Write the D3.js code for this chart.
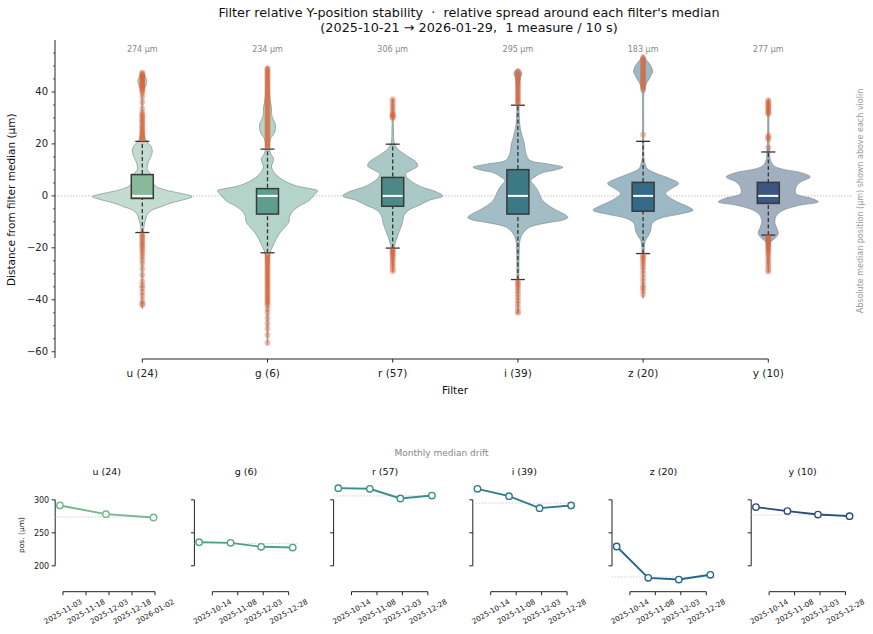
<!DOCTYPE html>
<html><head><meta charset="utf-8">
<script src="https://cdn.jsdelivr.net/npm/d3@7"></script>
<style>body{margin:0;background:#fff} text{font-family:"DejaVu Sans",sans-serif;white-space:pre}</style>
</head><body><svg id="c" width="873" height="634"></svg>
<script>
// ---------------- DATA ----------------
const filters = ["u","g","r","i","z","y"];
const counts = [24,6,57,39,20,10];
const absMedian = [274,234,306,295,183,277];
const boxQ1 = [-1.0,-7.0,-4.0,-7.0,-5.9,-2.9];
const boxMedian = [0,0,0,0,0,0];
const boxQ3 = [8.2,2.8,7.1,10.1,5.2,5.2];
const whiskerLo = [-14.1,-21.9,-20.1,-32.2,-22.2,-15.1];
const whiskerHi = [21.0,18.0,19.9,34.9,21.0,16.9];
const yTicksMain = [-60,-40,-20,0,20,40];

// outliers (µm from median)
const uOutliers = [21.5,22,22.6,23.1,23.8,24.4,25,25.7,26.3,27,27.8,28.5,29.1,29.9,30.6,31.2,31.9,33.5,36,38.2,39.6,40.4,41,41.5,42,42.4,42.9,43.3,43.8,44.2,44.7,45.1,45.6,46,46.5,47,47.5,
  -14.8,-15.5,-16.2,-17,-17.8,-18.5,-19.3,-20.1,-21,-22,-23.2,-24.5,-26,-28,-30.5,-33,-34.5,-35.5,-37,-38.5,-40.5,-41.5,-42];
const gOutliers = [18.5,19.2,19.9,20.6,21.3,22,22.7,23.4,24.1,24.8,25.5,26.2,26.9,27.6,28.3,29,29.7,30.4,31.1,31.8,32.5,33.2,33.9,34.6,35.3,36,36.7,37.4,38.1,38.8,39.5,40.2,40.9,41.6,42.3,43,43.7,44.4,45.1,45.8,46.5,47.2,47.9,48.6,49.1,
  -22.5,-23.2,-23.9,-24.6,-25.3,-26,-26.7,-27.4,-28.1,-28.8,-29.5,-30.2,-30.9,-31.6,-32.3,-33,-33.7,-34.4,-35.1,-35.8,-36.5,-37.2,-37.9,-38.6,-39.3,-40,-40.7,-41.4,-42,-43.5,-45,-47,-49,-51,-53.5,-56.5];
const rOutliers = [30,30.4,30.8,31.2,31.6,32.5,33.5,34.5,35.5,36.5,37.2,
  -20.6,-21.2,-21.8,-22.4,-23,-23.7,-24.5,-25.4,-26.3,-27.2,-28.2,-29];
const iOutliers = [35.5,36.2,36.9,37.6,38.3,39,39.7,40.4,41.1,41.8,42.5,43.2,43.9,44.6,45.3,46,46.7,47.4,48.1,
  -32.8,-33.6,-34.5,-35.5,-36.6,-37.8,-39,-40.3,-41.5,-43,-44.5,-45];
const zOutliers = [23.5,40.8,41.5,42.2,42.9,43.6,44.3,45,45.7,46.4,47.1,47.8,48.5,49.2,49.9,50.6,51.3,52,52.7,53.4,
  -22.8,-23.5,-24.3,-25.2,-26.2,-27.3,-28.5,-30,-31.5,-33,-34.5,-35.5,-36.5,-38];
const yOutliers = [18.5,21.8,22.5,23.2,31.5,32,32.6,33.2,33.8,34.4,35,35.6,36.2,36.8,
  -15.5,-16.1,-16.7,-17.3,-17.9,-18.5,-19.1,-19.7,-20.3,-21,-21.7,-22.5,-23.5,-24.5,-25.5,-26.5,-27.5,-28.5,-29.2];

// violin outlines: [value, relative half-width]
const uViolin = [[48,0],[47,0.03],[45.5,0.07],[44,0.09],[42.5,0.07],[41,0.03],[39,0.015],[34,0.012],[28,0.015],[24,0.03],[21,0.08],[19.5,0.16],[17.5,0.2],[15.5,0.18],[13.5,0.13],[11.5,0.1],[10,0.1],[8.5,0.17],[6,0.2],[4,0.25],[2.5,0.42],[1.5,0.64],[0.5,0.88],[-0.3,1.0],[-1.2,0.88],[-2.3,0.66],[-3.2,0.5],[-4.2,0.37],[-5.2,0.22],[-6.2,0.14],[-7.5,0.09],[-8.8,0.07],[-11,0.04],[-15,0.02],[-22,0.015],[-32,0.012],[-40,0.012],[-42.5,0.008],[-43.5,0]];
const gViolin = [[50,0],[49,0.02],[45,0.03],[40,0.035],[36,0.06],[34,0.08],[32,0.08],[30,0.1],[28,0.15],[26,0.16],[24,0.13],[22,0.06],[20,0.04],[18,0.04],[16,0.07],[14.5,0.12],[13,0.11],[11.5,0.08],[10,0.1],[8,0.18],[6,0.32],[4,0.55],[2.8,0.85],[2,1.0],[1,0.97],[0,0.92],[-2,0.82],[-4,0.63],[-6,0.5],[-8,0.44],[-10,0.43],[-12,0.35],[-14,0.26],[-16,0.19],[-18,0.14],[-20,0.09],[-22,0.05],[-25,0.03],[-30,0.02],[-40,0.015],[-50,0.012],[-56,0.008],[-57.5,0]];
const rViolin = [[37.5,0],[36,0.012],[30,0.012],[25,0.015],[21,0.025],[19,0.06],[17.5,0.13],[15,0.32],[13,0.47],[11.5,0.5],[10,0.38],[8.6,0.26],[7,0.29],[5,0.42],[3.5,0.57],[1.5,0.88],[0,1.0],[-1.7,0.73],[-3.6,0.53],[-5.5,0.32],[-7.4,0.23],[-10.6,0.19],[-13.8,0.13],[-17,0.07],[-19.6,0.035],[-22,0.02],[-27,0.012],[-29.5,0]];
const iViolin = [[48.8,0],[48,0.06],[47,0.08],[45.5,0.05],[43,0.025],[38,0.02],[32,0.025],[28,0.035],[25.9,0.05],[22.7,0.09],[20,0.13],[16.3,0.16],[13.7,0.24],[12.3,0.6],[11,0.9],[10,0.75],[9,0.5],[7.3,0.34],[5.9,0.26],[4,0.33],[2,0.4],[-1.9,0.5],[-5.1,0.73],[-7.3,0.95],[-8.3,1.0],[-9.3,0.9],[-10.2,0.63],[-12.1,0.23],[-14.7,0.09],[-17.3,0.04],[-22,0.025],[-30,0.02],[-38,0.015],[-44,0.01],[-45.5,0]];
const zViolin = [[54.3,0],[53,0.04],[52,0.08],[50.5,0.14],[49,0.18],[47.7,0.19],[46.5,0.16],[45,0.12],[43,0.06],[41,0.03],[39,0.015],[30,0.012],[20,0.012],[14,0.02],[12.5,0.04],[10.5,0.08],[8.6,0.27],[6.7,0.53],[4.8,0.71],[2.8,0.57],[0.9,0.45],[-1.7,0.62],[-4.2,0.9],[-5.5,1.0],[-7,0.73],[-8.7,0.33],[-10.6,0.18],[-13.5,0.15],[-15.5,0.1],[-17,0.05],[-20,0.025],[-25,0.015],[-33,0.012],[-38,0.01],[-39.5,0]];
const yViolin = [[37.5,0],[36,0.012],[30,0.012],[22,0.015],[17,0.025],[14,0.04],[12.3,0.08],[11.2,0.14],[10,0.35],[9.2,0.6],[7.3,0.84],[5.4,0.65],[3.5,0.56],[0.9,0.55],[-1,0.87],[-2.3,1.0],[-3.6,0.63],[-5.5,0.3],[-7.4,0.17],[-10,0.13],[-12.5,0.17],[-14.5,0.2],[-16.4,0.13],[-17.7,0.05],[-20,0.025],[-25,0.015],[-29.5,0]];

// monthly median drift (absolute µm)
const uMonths = ["2025-11-01","2025-12-01","2026-01-01"];
const uMonthly = [291.4,278.3,273.2];
const gMonths = ["2025-10-01","2025-11-01","2025-12-01","2026-01-01"];
const gMonthly = [235.9,234.8,228.8,227.7];
const rMonths = ["2025-10-01","2025-11-01","2025-12-01","2026-01-01"];
const rMonthly = [317.7,316.7,302.0,306.5];
const iMonths = ["2025-10-01","2025-11-01","2025-12-01","2026-01-01"];
const iMonthly = [316.7,305.6,287.4,291.4];
const zMonths = ["2025-10-01","2025-11-01","2025-12-01","2026-01-01"];
const zMonthly = [229.3,181.8,179.2,186.4];
const yMonths = ["2025-10-01","2025-11-01","2025-12-01","2026-01-01"];
const yMonthly = [289.0,282.9,277.7,275.3];
const uDateTicks = ["2025-11-03","2025-11-18","2025-12-03","2025-12-18","2026-01-02"];
const otherDateTicks = ["2025-10-14","2025-11-08","2025-12-03","2025-12-28"];
const panelYTicks = [200,250,300];
const panelYLim = [172,324];

// ---------------- STYLE ----------------
const violinFill = ["#c4dccf","#b5d4c9","#a9c8c6","#a2bdc5","#9db8c5","#a1afc1"];
const boxFill = ["#8ab89a","#5f9e8e","#4a8986","#3b7a84","#336a87","#3a5682"];
const lineCol = ["#74b88f","#4fa08b","#3a8f8d","#2b7b8b","#24688a","#2c4b7d"];
const outlierCol = "#dd5a2a";

const violins = [uViolin,gViolin,rViolin,iViolin,zViolin,yViolin];
const outliers = [uOutliers,gOutliers,rOutliers,iOutliers,zOutliers,yOutliers];
const months = [uMonths,gMonths,rMonths,iMonths,zMonths,yMonths];
const monthly = [uMonthly,gMonthly,rMonthly,iMonthly,zMonthly,yMonthly];

const svg = d3.select("#c");
const fmtMinus = v => (v<0 ? "\u2212"+Math.abs(v) : ""+v);

// ---------------- MAIN ----------------
const y = d3.scaleLinear().domain([-62.4,60]).range([358,40]);
const x = d3.scalePoint().domain(filters).range([142.3,768.3]);
const HW = 50, BHW = 11, CAP = 7;
const spineCol = "#222";

// title
svg.append("text").attr("x",469).attr("y",17).attr("text-anchor","middle").attr("font-size",12.8).attr("fill","#111")
  .attr("xml:space","preserve")
  .text("Filter relative Y-position stability  \u00b7  relative spread around each filter's median");
svg.append("text").attr("x",469).attr("y",31.5).attr("text-anchor","middle").attr("font-size",12.8).attr("fill","#111")
  .attr("xml:space","preserve")
  .text("(2025-10-21 \u2192 2026-01-29,  1 measure / 10 s)");

// zero line
svg.append("line").attr("x1",55).attr("x2",853).attr("y1",y(0)).attr("y2",y(0))
  .attr("stroke","#aaa").attr("stroke-width",0.7).attr("stroke-dasharray","1.5,1.5");

// left axis
const gy = svg.append("g");
gy.append("line").attr("x1",55).attr("x2",55).attr("y1",40).attr("y2",358).attr("stroke",spineCol).attr("stroke-width",1);
d3.range(-60,60,5).forEach(v=>{
  const major = yTicksMain.includes(v);
  gy.append("line").attr("x1",55).attr("x2",55-(major?3.5:2)).attr("y1",y(v)).attr("y2",y(v))
    .attr("stroke",spineCol).attr("stroke-width",major?0.9:0.7);
});
yTicksMain.forEach(v=>{
  gy.append("text").attr("x",48).attr("y",y(v)).attr("dy","0.35em").attr("text-anchor","end")
    .attr("font-size",10).attr("fill","#222").text(fmtMinus(v));
});
svg.append("text").attr("transform",`translate(15,${y(-1.5)}) rotate(-90)`).attr("text-anchor","middle")
  .attr("font-size",10.5).attr("fill","#111").text("Distance from filter median (\u00b5m)");

// bottom axis
const gx = svg.append("g");
gx.append("line").attr("x1",x("u")).attr("x2",x("y")).attr("y1",359).attr("y2",359).attr("stroke",spineCol);
filters.forEach((f,k)=>{
  gx.append("line").attr("x1",x(f)).attr("x2",x(f)).attr("y1",359).attr("y2",362.5).attr("stroke",spineCol);
  gx.append("text").attr("x",x(f)).attr("y",377).attr("text-anchor","middle").attr("font-size",10.5).attr("fill","#222")
    .text(`${f} (${counts[k]})`);
});
svg.append("text").attr("x",455).attr("y",393.5).attr("text-anchor","middle").attr("font-size",10.5).attr("fill","#111").text("Filter");

// right note
svg.append("text").attr("transform","translate(863,201) rotate(-90)").attr("text-anchor","middle")
  .attr("font-size",8).attr("fill","#999").text("Absolute median position (\u00b5m) shown above each violin");

// violins
filters.forEach((f,k)=>{
  const cx = x(f);
  const area = d3.area().y(d=>y(d[0])).x0(d=>cx-d[1]*HW).x1(d=>cx+d[1]*HW).curve(d3.curveCatmullRom.alpha(0.5));
  svg.append("path").attr("d",area(violins[k])).attr("fill",violinFill[k])
    .attr("stroke","#7d8c88").attr("stroke-opacity",0.75).attr("stroke-width",0.9);
});
// boxes
filters.forEach((f,k)=>{
  const cx = x(f);
  svg.append("line").attr("x1",cx).attr("x2",cx).attr("y1",y(whiskerLo[k])).attr("y2",y(whiskerHi[k]))
    .attr("stroke","#333").attr("stroke-width",1.3).attr("stroke-dasharray","4,2.5");
  svg.append("rect").attr("x",cx-BHW).attr("width",2*BHW).attr("y",y(boxQ3[k])).attr("height",y(boxQ1[k])-y(boxQ3[k]))
    .attr("fill",boxFill[k]).attr("stroke","#3a3a3a").attr("stroke-width",1.5);
  svg.append("line").attr("x1",cx-BHW+1).attr("x2",cx+BHW-1).attr("y1",y(boxMedian[k])).attr("y2",y(boxMedian[k]))
    .attr("stroke","#fff").attr("stroke-width",2);
  [whiskerLo[k],whiskerHi[k]].forEach(w=>{
    svg.append("line").attr("x1",cx-CAP).attr("x2",cx+CAP).attr("y1",y(w)).attr("y2",y(w))
      .attr("stroke","#333").attr("stroke-width",1.3);
  });
  svg.append("text").attr("x",cx).attr("y",52).attr("text-anchor","middle").attr("font-size",8).attr("fill","#888")
    .text(`${absMedian[k]} \u00b5m`);
});
// outliers
filters.forEach((f,k)=>{
  svg.append("g").selectAll("circle").data(outliers[k]).join("circle")
    .attr("cx",x(f)).attr("cy",d=>y(d)).attr("r",3).attr("fill",outlierCol).attr("fill-opacity",0.35);
});

// ---------------- PANELS ----------------
svg.append("text").attr("x",441.5).attr("y",455.5).attr("text-anchor","middle").attr("font-size",9).attr("fill","#888")
  .text("Monthly median drift");
const parse = d3.utcParse("%Y-%m-%d");
const PW = 103;
const yp = d3.scaleLinear().domain(panelYLim).range([584.3,484]);
filters.forEach((f,k)=>{
  const L = 55.2 + 139.2*k;
  const dates = months[k].map(parse);
  const d0 = dates[0], d1 = dates[dates.length-1];
  const pad = (d1-d0)*0.05;
  const xp = d3.scaleUtc().domain([new Date(+d0-pad), new Date(+d1+pad)]).range([L, L+PW]);
  const g = svg.append("g");
  g.append("text").attr("x",L+PW/2).attr("y",475).attr("text-anchor","middle").attr("font-size",9.5).attr("fill","#111")
    .text(`${f} (${counts[k]})`);
  g.append("line").attr("x1",L).attr("x2",L).attr("y1",yp(300)).attr("y2",yp(200)).attr("stroke",spineCol);
  panelYTicks.forEach(v=>{
    g.append("line").attr("x1",L).attr("x2",L-3.5).attr("y1",yp(v)).attr("y2",yp(v)).attr("stroke",spineCol);
    if(k===0) g.append("text").attr("x",L-6).attr("y",yp(v)).attr("dy","0.35em").attr("text-anchor","end")
      .attr("font-size",8).attr("fill","#222").text(v);
  });
  if(k===0) g.append("text").attr("transform",`translate(24,535) rotate(-90)`).attr("text-anchor","middle")
    .attr("font-size",7.5).attr("fill","#222").text("pos. (\u00b5m)");
  const tickLabels = (k===0 ? uDateTicks : otherDateTicks);
  const ticks = tickLabels.map(parse);
  g.append("line").attr("x1",xp(ticks[0])).attr("x2",xp(ticks[ticks.length-1])).attr("y1",591.7).attr("y2",591.7).attr("stroke",spineCol);
  ticks.forEach((t,j)=>{
    const tx = xp(t);
    g.append("line").attr("x1",tx).attr("x2",tx).attr("y1",591.7).attr("y2",595.2).attr("stroke",spineCol);
    g.append("text").attr("transform",`translate(${tx},${611.5}) rotate(-30)`).attr("text-anchor","middle")
      .attr("dy","0.35em").attr("font-size",7.3).attr("fill","#222").text(tickLabels[j]);
  });
  g.append("line").attr("x1",L).attr("x2",L+PW).attr("y1",yp(absMedian[k])).attr("y2",yp(absMedian[k]))
    .attr("stroke","#bbb").attr("stroke-width",0.7).attr("stroke-dasharray","1.5,1.5");
  const pts = dates.map((d,j)=>[d,monthly[k][j]]);
  g.append("path").attr("d",d3.line().x(d=>xp(d[0])).y(d=>yp(d[1]))(pts))
    .attr("fill","none").attr("stroke",lineCol[k]).attr("stroke-width",1.9);
  g.selectAll("circle").data(pts).join("circle").attr("cx",d=>xp(d[0])).attr("cy",d=>yp(d[1])).attr("r",3.2)
    .attr("fill","#fff").attr("stroke",lineCol[k]).attr("stroke-width",1.4);
});
</script></body></html>
